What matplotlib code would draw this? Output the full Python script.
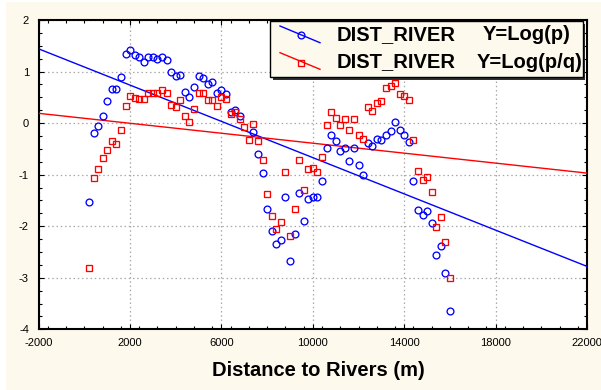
import numpy as np
import matplotlib
matplotlib.use("Agg")
import matplotlib.pyplot as plt
from matplotlib.patches import Rectangle
from matplotlib.lines import Line2D
from matplotlib.ticker import MultipleLocator, FixedLocator

plt.rcParams['font.family'] = ['Liberation Sans', 'DejaVu Sans']
plt.rcParams['axes.unicode_minus'] = False

# Distance to nearest river (m)
dist = [200, 400, 600, 800, 1000, 1200, 1400, 1600, 1800, 2000,
        2200, 2400, 2600, 2800, 3000, 3200, 3400, 3600, 3800, 4000,
        4200, 4400, 4600, 4800, 5000, 5200, 5400, 5600, 5800, 6000,
        6200, 6400, 6600, 6800, 7000, 7200, 7400, 7600, 7800, 8000,
        8200, 8400, 8600, 8800, 9000, 9200, 9400, 9600, 9800, 10000,
        10200, 10400, 10600, 10800, 11000, 11200, 11400, 11600, 11800, 12000,
        12200, 12400, 12600, 12800, 13000, 13200, 13400, 13600, 13800, 14000,
        14200, 14400, 14600, 14800, 15000, 15200, 15400, 15600, 15800, 16000]

# Y = Log(p)
log_p = [-1.53, -0.19, -0.05, 0.14, 0.42, 0.67, 0.66, 0.90, 1.35, 1.41,
         1.32, 1.28, 1.19, 1.28, 1.28, 1.24, 1.29, 1.22, 1.00, 0.92,
         0.94, 0.61, 0.50, 0.70, 0.92, 0.88, 0.76, 0.80, 0.58, 0.65,
         0.56, 0.21, 0.25, 0.13, np.nan, np.nan, -0.17, -0.59, -0.96, -1.66,
         -2.09, -2.34, -2.26, -1.44, -2.68, -2.16, -1.36, -1.89, -1.48, -1.44,
         -1.44, -1.13, -0.49, -0.24, -0.34, -0.54, -0.49, -0.73, -0.49, -0.81,
         -1.00, -0.39, -0.44, -0.30, -0.32, -0.23, -0.15, 0.02, -0.13, -0.23,
         -0.37, -1.12, -1.68, -1.78, -1.71, -1.93, -2.56, -2.39, -2.90, -3.65]

# Y = Log(p/q)
log_pq = [-2.82, -1.07, -0.90, -0.68, -0.52, -0.34, -0.40, -0.14, 0.34, 0.53,
          0.49, 0.46, 0.46, 0.58, 0.58, 0.58, 0.65, 0.58, 0.36, 0.31,
          0.44, 0.13, 0.03, 0.27, 0.58, 0.58, 0.44, 0.45, 0.34, 0.50,
          0.47, 0.17, 0.22, 0.08, -0.08, -0.32, -0.02, -0.34, -0.71, -1.38,
          -1.80, -2.05, -1.92, -0.95, -2.19, -1.66, -0.71, -1.29, -0.90, -0.87,
          -0.95, -0.65, -0.04, 0.21, 0.09, -0.04, 0.07, -0.13, 0.07, -0.24,
          -0.30, 0.32, 0.24, 0.39, 0.43, 0.69, 0.71, 0.78, 0.56, 0.52,
          0.44, -0.32, -0.93, -1.10, -1.05, -1.34, -2.02, -1.82, -2.31, -3.01]

# Linear fits (slope, intercept)
fit_p = (-1.758e-4, 1.088)
fit_pq = (-4.83e-5, 0.093)

x_ticks = [-2000, 2000, 6000, 10000, 14000, 18000, 22000]
y_ticks = [-4, -3, -2, -1, 0, 1, 2]

series_labels = ["DIST_RIVER", "DIST_RIVER"]
y_labels = ["Y=Log(p)", "Y=Log(p/q)"]

W, H = 601, 390
BG = '#FDF9EC'
fig = plt.figure(figsize=(W / 100, H / 100), dpi=100, facecolor='white')


def fx(px):
    return px / W


def fy(py):
    return 1 - py / H


# cream panel behind everything
fig.add_artist(Rectangle((fx(6), 0), fx(W - 6), fy(2), transform=fig.transFigure,
                         facecolor=BG, edgecolor='none', zorder=-10))

ax = fig.add_axes([fx(38.7), fy(329.3), fx(587 - 38.7), (329.3 - 20) / H])
ax.set_facecolor('white')

xmin, xmax = x_ticks[0], x_ticks[-1]
ax.set_xlim(xmin, xmax)
ax.set_ylim(y_ticks[0], y_ticks[-1])

ax.xaxis.set_major_locator(FixedLocator(x_ticks))
ax.xaxis.set_minor_locator(MultipleLocator(800))
ax.yaxis.set_major_locator(FixedLocator(y_ticks))
ax.yaxis.set_minor_locator(MultipleLocator(0.25))
ax.tick_params(which='both', direction='in', top=True, right=True,
               labelsize=8, width=0.8, colors='black')
ax.tick_params(which='major', length=3.5)
ax.tick_params(which='minor', length=2.5)
ax.tick_params(axis='x', pad=6)
ax.tick_params(axis='y', pad=7)

for s in ax.spines.values():
    s.set_linewidth(1.5)
    s.set_color('black')

ax.grid(True, which='major', color='#A8A8A8', linestyle=(0, (1.2, 2.2)), linewidth=0.9)
ax.set_axisbelow(True)

xs = np.array([xmin, xmax], dtype=float)
ax.plot(xs, fit_p[0] * xs + fit_p[1], color='#0000FF', lw=1.0, zorder=3)
ax.plot(xs, fit_pq[0] * xs + fit_pq[1], color='#FF0000', lw=1.0, zorder=3)

ax.plot(dist, log_p, linestyle='none', marker='o', ms=4.9, mfc='none',
        mec='#0000FF', mew=0.95, zorder=4)
ax.plot(dist, log_pq, linestyle='none', marker='s', ms=5.0, mfc='none',
        mec='#FF0000', mew=0.95, zorder=5)

fig.text(fx(318.5), fy(370), "Distance to Rivers (m)", ha='center', va='center',
         fontsize=14.5, fontweight='bold')

# legend box with drop shadow
lx0, ly0, lx1, ly1 = 270, 21, 582.7, 77
fig.add_artist(Rectangle((fx(lx0 + 2.5), fy(ly1 + 2.5)), fx(lx1 - lx0), (ly1 - ly0) / H,
                         transform=fig.transFigure, facecolor='#303030',
                         edgecolor='none', zorder=6))
fig.add_artist(Rectangle((fx(lx0), fy(ly1)), fx(lx1 - lx0), (ly1 - ly0) / H,
                         transform=fig.transFigure, facecolor=BG,
                         edgecolor='black', lw=1.0, zorder=7))

handles = [('#0000FF', 'o', 26.0, 42.7, 35.3), ('#FF0000', 's', 52.7, 69.3, 62.7)]
text_y = [35, 62]
y_label_x = [482.7, 476.7]
for i, (c, m, ya, yb, ym) in enumerate(handles):
    fig.add_artist(Line2D([fx(280), fx(320)], [fy(ya), fy(yb)], transform=fig.transFigure,
                          color=c, lw=1.0, zorder=8))
    fig.add_artist(Line2D([fx(300.7)], [fy(ym)], transform=fig.transFigure,
                          marker=m, ms=4.9, mfc='none', mec=c, mew=0.95,
                          linestyle='none', zorder=9))
    fig.text(fx(336.7), fy(text_y[i]), series_labels[i], ha='left', va='center',
             fontsize=14.5, fontweight='bold', zorder=10)
    fig.text(fx(y_label_x[i]), fy(text_y[i]), y_labels[i], ha='left', va='center',
             fontsize=14.5, fontweight='bold', zorder=10)

fig.savefig('out.png', dpi=100, facecolor='white')
